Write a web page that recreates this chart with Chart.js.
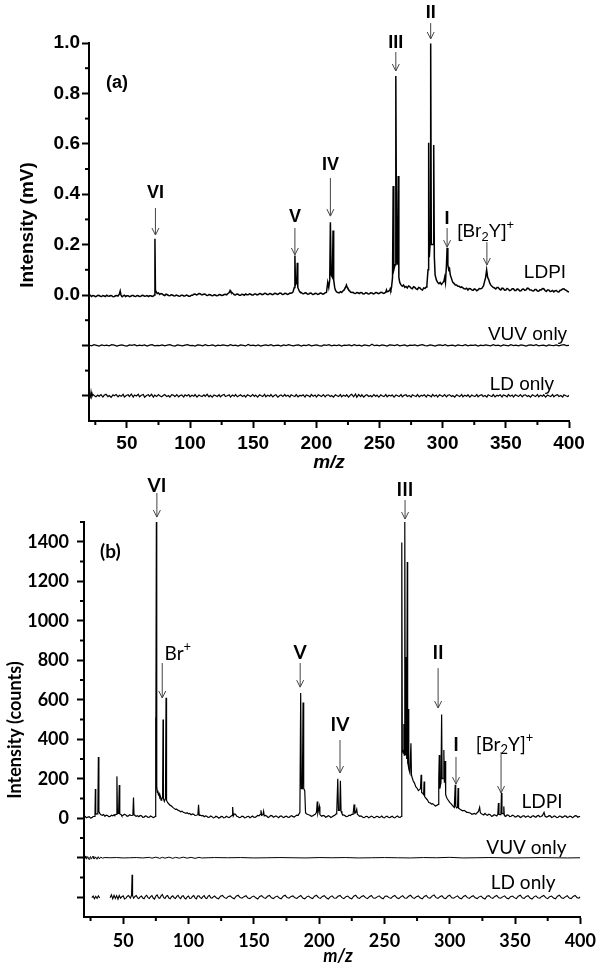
<!DOCTYPE html>
<html><head><meta charset="utf-8">
<script src="https://cdn.jsdelivr.net/npm/chart.js@4.4.1/dist/chart.umd.min.js"></script>
<style>
html,body{margin:0;padding:0;background:#fff;width:602px;height:975px;overflow:hidden}
.wrap{position:absolute;left:0;width:602px}
#wa{top:0;height:478px}#wb{top:478px;height:497px}
canvas{display:block}
</style></head><body>
<div class="wrap" id="wa"><canvas id="ca" width="602" height="478"></canvas></div>
<div class="wrap" id="wb"><canvas id="cb" width="602" height="497"></canvas></div>
<script>
// ---------- tick values ----------
const mzTicks = [50,100,150,200,250,300,350,400];
const mzMinor = [25,75,125,175,225,275,325,375];
const yTicksA = [-0.4,-0.2,0,0.2,0.4,0.6,0.8,1.0];
const yMinorA = [-0.3,-0.1,0.1,0.3,0.5,0.7,0.9];
const yTicksB = [-400,-200,0,200,400,600,800,1000,1200,1400];
const yMinorB = [-300,-100,100,300,500,700,900,1100,1300,1500];

// ---------- panel (a): intensity in mV, [m/z, value] ----------
const ldpiA = [[20,-0.004],[21,-0.001],[22,-0.006],[23,-0.002],[24,-0.003],[25,-0.007],[26,-0.005],[27,-0.001],[28,-0.002],[29,-0.005],[30,-0.006],[31,-0.002],[32,-0.004],[33,-0.006],[34,-0.001],[35,-0.004],[36,-0.005],[37,-0.002],[38,-0.003],[39,-0.007],[40,-0.006],[41,-0.003],[42,-0.002],[43,-0.004],[44,0.003],[44.7,0.016],[45.4,-0.002],[46,-0.005],[47,-0.004],[48,-0.001],[49,-0.006],[50,-0.003],[51,-0.003],[52,-0.007],[53,-0.005],[54,-0.002],[55,-0.002],[56,-0.005],[57,-0.006],[58,-0.002],[59,-0.003],[60,-0.006],[61,-0.005],[62,-0.001],[63,-0.002],[64,-0.005],[65,-0.004],[66,-0.002],[67,-0.006],[68,-0.003],[69,-0.003],[70,-0.006],[71,-0.004],[71.8,0.0],[72.2,0.223],[72.6,0.02],[73.2,0.012],[74,0.006],[75,0.008],[76,0.002],[77,0.006],[78,0.004],[79,0.0],[80,-0.002],[81,0.003],[82,0.001],[83,-0.002],[84,-0.003],[85,0.001],[86,0.0],[87,-0.003],[88,-0.004],[89,0.0],[90,-0.002],[91,-0.004],[92,-0.005],[93,-0.001],[94,-0.001],[95,-0.004],[96,-0.004],[97,0.0],[98,-0.002],[99,-0.005],[100,-0.005],[101,-0.001],[102,-0.001],[103,0.003],[104,0.004],[105,0.0],[106,0.002],[107,0.006],[108,0.005],[109,0.001],[110,0.001],[111,0.004],[112,0.003],[113,-0.001],[114,-0.002],[115,0.002],[116,0.001],[117,-0.002],[118,-0.003],[119,0.001],[120,0.0],[121,-0.003],[122,-0.002],[123,0.002],[124,0.001],[125,-0.002],[126,-0.001],[127,0.002],[128,0.003],[129,0.001],[130,0.006],[131,0.01],[131.7,0.018],[132.3,0.012],[133,0.01],[134,0.006],[134.5,0.004],[135,0.001],[136,0.0],[137,0.004],[138,0.003],[139,-0.001],[140,-0.001],[141,0.003],[142,0.002],[143,-0.001],[144,0.004],[145,0.001],[146,0.001],[147,0.005],[148,0.003],[149,0.0],[150,0.0],[151,0.004],[152,0.004],[153,0.0],[154,0.002],[155,0.006],[156,0.005],[157,0.001],[158,0.003],[159,0.007],[160,0.006],[161,0.002],[162,0.002],[163,0.006],[164,0.005],[165,0.001],[166,0.003],[167,0.007],[168,0.006],[169,0.002],[170,0.004],[171,0.008],[172,0.007],[173,0.002],[174,0.003],[175,0.007],[176,0.006],[177,0.002],[178,0.004],[179,0.008],[180,0.007],[181,0.009],[181.5,0.012],[182.5,0.03],[183.0,0.157],[183.5,0.04],[184.5,0.05],[184.9,0.128],[185.3,0.03],[186.5,0.015],[187,0.012],[188,0.01],[189,0.006],[190,0.005],[191,0.009],[192,0.008],[193,0.003],[194,0.004],[195,0.008],[196,0.007],[197,0.002],[198,0.003],[199,0.007],[200,0.006],[201,0.002],[202,0.004],[203,0.008],[204,0.007],[205,0.003],[206,0.005],[207,0.009],[208,0.01],[209,0.05],[209.8,0.03],[210.6,0.06],[211.1,0.289],[211.7,0.08],[212.7,0.07],[213.2,0.256],[213.7,0.06],[214.5,0.03],[215,0.02],[216,0.012],[217,0.01],[218,0.008],[219,0.013],[220,0.01],[221,0.016],[222,0.02],[223,0.03],[223.8,0.04],[224.4,0.03],[225,0.025],[226,0.018],[226.5,0.015],[227,0.012],[228,0.01],[229,0.011],[230,0.007],[231,0.006],[232,0.01],[233,0.009],[234,0.006],[235,0.01],[236,0.009],[237,0.004],[238,0.005],[239,0.009],[240,0.008],[241,0.004],[242,0.005],[243,0.009],[244,0.008],[245,0.004],[246,0.006],[247,0.01],[248,0.009],[249,0.005],[250,0.007],[251,0.011],[252,0.01],[253,0.006],[254,0.008],[255,0.012],[255.5,0.02],[256,0.013],[257,0.015],[258,0.018],[258.5,0.025],[259,0.02],[259.5,0.03],[260.3,0.07],[260.8,0.433],[261.3,0.1],[262.3,0.12],[262.9,0.869],[263.5,0.15],[264.3,0.12],[264.8,0.472],[265.3,0.07],[266,0.05],[267,0.04],[268,0.035],[269,0.04],[270,0.03],[271,0.034],[272,0.028],[273,0.036],[274,0.033],[275,0.027],[276,0.025],[277,0.033],[278,0.03],[279,0.024],[280,0.022],[281,0.03],[282,0.028],[283,0.022],[284,0.02],[285,0.028],[286,0.026],[287,0.032],[287.5,0.04],[288.4,0.1],[288.9,0.604],[289.4,0.15],[290.0,0.2],[290.5,0.998],[291.0,0.2],[292.4,0.2],[292.9,0.595],[293.4,0.15],[294,0.08],[295,0.06],[296,0.05],[297,0.045],[298,0.05],[299,0.042],[300,0.048],[301,0.055],[301.6,0.07],[302.2,0.05],[303.0,0.12],[303.5,0.187],[304.1,0.12],[304.8,0.1],[305.4,0.105],[306,0.08],[307,0.065],[308,0.05],[309,0.046],[310,0.04],[311,0.04],[312,0.035],[313,0.035],[314,0.03],[315,0.032],[316,0.028],[317,0.025],[318,0.024],[319,0.027],[320,0.02],[321,0.026],[322,0.025],[323,0.02],[324,0.018],[325,0.024],[326,0.022],[327,0.017],[328,0.02],[329,0.026],[330,0.025],[331,0.026],[331.5,0.03],[332.3,0.036],[333,0.05],[334,0.07],[334.8,0.1],[335.6,0.07],[336.5,0.06],[337.2,0.048],[338,0.04],[339,0.035],[340,0.03],[341,0.028],[342,0.024],[343,0.03],[344,0.03],[345,0.023],[346,0.02],[347,0.027],[348,0.026],[349,0.019],[350,0.02],[351,0.026],[352,0.023],[353,0.017],[354,0.019],[355,0.025],[356,0.025],[357,0.018],[358,0.018],[359,0.024],[360,0.022],[361,0.016],[362,0.017],[363,0.023],[364,0.024],[365,0.018],[366,0.02],[367,0.027],[368,0.026],[369,0.02],[370,0.02],[371,0.017],[372,0.016],[373,0.022],[374,0.022],[375,0.016],[376,0.015],[377,0.021],[378,0.02],[379,0.026],[380,0.025],[381,0.018],[382,0.014],[383,0.02],[384,0.02],[385,0.014],[386,0.015],[387,0.018],[388,0.012],[389,0.017],[390,0.018],[391,0.013],[392,0.012],[393,0.019],[394,0.02],[395,0.024],[396,0.025],[397,0.02],[398,0.018],[399,0.014],[400,0.012]];
const vuvA = [[20,0.001],[22,-0.002],[24,0.003],[26,0.0],[28,-0.003],[30,0.002],[32,-0.001],[34,0.001],[36,-0.002],[38,0.003],[40,0.001],[42,-0.003],[44,0.0],[46,0.002],[48,-0.001],[50,-0.003],[52,0.002],[54,0.0],[56,0.003],[58,-0.002],[60,0.001],[62,-0.001],[64,0.002],[66,-0.003],[68,0.001],[70,0.003],[72,-0.002],[74,0.0],[76,-0.001],[78,0.002],[80,-0.002],[82,0.001],[84,0.003],[86,-0.001],[88,-0.003],[90,0.002],[92,0.0],[94,-0.002],[96,0.001],[98,0.003],[100,-0.001],[102,0.0],[104,-0.003],[106,0.002],[108,0.001],[110,-0.002],[112,0.003],[114,-0.001],[116,0.0],[118,0.002],[120,-0.003],[122,0.001],[124,-0.001],[126,0.002],[128,0.0],[130,-0.002],[132,0.003],[134,-0.001],[136,0.001],[138,-0.003],[140,0.002],[142,0.0],[144,-0.002],[146,0.004],[148,-0.001],[150,0.001],[152,-0.002],[154,0.002],[156,-0.003],[158,0.0],[160,0.002],[162,-0.001],[164,0.003],[166,-0.002],[168,0.0],[170,0.001],[172,-0.003],[174,0.002],[176,-0.001],[178,0.003],[180,0.0],[182,-0.002],[184,0.001],[186,0.002],[188,-0.003],[190,0.001],[192,-0.001],[194,0.003],[196,-0.002],[198,0.0],[200,0.002],[202,-0.001],[204,-0.003],[206,0.002],[208,0.0],[210,0.003],[212,-0.002],[214,0.001],[216,-0.001],[218,0.002],[220,-0.003],[222,0.001],[224,0.0],[226,0.002],[228,-0.002],[230,0.003],[232,-0.001],[234,0.001],[236,-0.003],[238,0.002],[240,0.0],[242,-0.002],[244,0.005],[246,-0.001],[248,0.001],[250,-0.002],[252,0.002],[254,0.0],[256,-0.003],[258,0.002],[260,0.001],[262,-0.001],[264,0.003],[266,-0.002],[268,0.0],[270,0.002],[272,-0.003],[274,0.001],[276,0.0],[278,0.002],[280,-0.002],[282,0.001],[284,0.003],[286,-0.001],[288,-0.002],[290,0.002],[292,0.0],[294,-0.003],[296,0.001],[298,0.002],[300,-0.001],[302,0.003],[304,-0.002],[306,0.0],[308,0.001],[310,-0.003],[312,0.002],[314,0.0],[316,-0.001],[318,0.003],[320,-0.002],[322,0.001],[324,0.0],[326,0.002],[328,-0.003],[330,0.001],[332,-0.001],[334,0.002],[336,0.0],[338,-0.002],[340,0.003],[342,-0.001],[344,0.001],[346,-0.003],[348,0.002],[350,0.0],[352,-0.002],[354,0.003],[356,-0.001],[358,0.001],[360,-0.002],[362,0.002],[364,0.0],[366,-0.003],[368,0.001],[370,0.002],[372,-0.001],[374,0.003],[376,-0.002],[378,0.0],[380,0.001],[382,-0.003],[384,0.002],[386,0.0],[388,-0.001],[390,0.002],[392,-0.002],[394,0.001],[396,0.003],[398,-0.001],[400,0.0]];
const ldA = [[20,0.004],[21,-0.006],[21.6,0.016],[22.2,-0.004],[23,0.006],[24,0.001],[25.5,-0.004],[27,0.003],[28,-0.002],[29.5,0.005],[31,-0.005],[32,0.002],[33.5,0.006],[35,-0.003],[36,0.001],[37.5,-0.006],[39,0.004],[40,0.0],[41.5,0.005],[43,-0.004],[44,0.002],[45.5,-0.002],[47,0.006],[48,-0.005],[49.5,0.001],[51,0.004],[52,-0.003],[53.5,0.007],[55,-0.005],[56,0.003],[57.5,-0.001],[59,0.006],[60,-0.004],[61.5,0.002],[63,0.005],[64,-0.006],[65.5,0.001],[67,0.004],[68,-0.002],[69.5,0.006],[71,-0.005],[72,0.003],[73.5,-0.003],[75,0.005],[76,0.0],[77.5,-0.004],[79,0.002],[80,0.005],[81.5,-0.003],[83,0.001],[84,-0.005],[85.5,0.004],[87,0.002],[88,-0.003],[89.5,0.005],[91,-0.004],[92,0.001],[93.5,0.003],[95,-0.005],[96,0.004],[97.5,-0.001],[99,0.005],[100,-0.004],[101.5,0.002],[103,-0.002],[104,0.005],[105.5,-0.005],[107,0.003],[108,0.0],[109.5,-0.003],[111,0.004],[112,-0.002],[113.5,0.006],[115,-0.004],[116,0.002],[117.5,-0.005],[119,0.003],[120,0.001],[121.5,-0.003],[123,0.004],[124,-0.004],[125.5,0.002],[127,0.005],[128,-0.003],[129.5,0.0],[131,0.004],[132,-0.005],[133.5,0.003],[135,-0.002],[136,0.005],[137.5,-0.004],[139,0.001],[140,0.004],[141.5,-0.003],[143,0.002],[144,-0.005],[145.5,0.004],[147,0.0],[148,-0.003],[149.5,0.005],[151,-0.002],[152,0.003],[153.5,-0.005],[155,0.004],[156,0.001],[157.5,-0.003],[159,0.006],[160,-0.004],[161.5,0.002],[163,-0.002],[164,0.005],[165.5,-0.004],[167,0.002],[168,0.004],[169.5,-0.005],[171,0.001],[172,0.003],[173.5,-0.003],[175,0.005],[176,-0.002],[177.5,0.002],[179,-0.005],[180,0.004],[181.5,0.0],[183,-0.003],[184,0.005],[185.5,-0.004],[187,0.002],[188,-0.001],[189.5,0.004],[191,-0.005],[192,0.003],[193.5,0.001],[195,-0.004],[196,0.005],[197.5,-0.002],[199,0.003],[200,-0.005],[201.5,0.004],[203,0.0],[204,-0.003],[205.5,0.005],[207,-0.004],[208,0.002],[209.5,0.004],[211,-0.003],[212,0.001],[213.5,-0.005],[215,0.004],[216,0.001],[217.5,-0.003],[219,0.005],[220,-0.004],[221.5,0.002],[223,-0.002],[224,0.004],[225.5,-0.005],[227,0.003],[228,0.006],[229.5,-0.004],[231,0.007],[232,-0.006],[233.5,0.005],[235,-0.003],[236,0.004],[237.5,-0.005],[239,0.002],[240,0.004],[241.5,-0.003],[243,0.001],[244,-0.004],[245.5,0.005],[247,-0.002],[248,0.003],[249.5,-0.005],[251,0.004],[252,0.0],[253.5,-0.003],[255,0.005],[256,-0.004],[257.5,0.002],[259,-0.001],[260,0.004],[261.5,-0.005],[263,0.003],[264,0.001],[265.5,-0.003],[267,0.005],[268,-0.004],[269.5,0.002],[271,0.004],[272,-0.003],[273.5,0.001],[275,-0.005],[276,0.004],[277.5,0.0],[279,-0.003],[280,0.005],[281.5,-0.004],[283,0.002],[284,-0.001],[285.5,0.004],[287,-0.005],[288,0.003],[289.5,0.001],[291,-0.004],[292,0.005],[293.5,-0.002],[295,0.003],[296,-0.005],[297.5,0.004],[299,0.0],[300,-0.003],[301.5,0.005],[303,-0.004],[304,0.002],[305.5,0.004],[307,-0.003],[308,0.001],[309.5,-0.005],[311,0.004],[312,0.001],[313.5,-0.003],[315,0.005],[316,-0.004],[317.5,0.002],[319,-0.002],[320,0.004],[321.5,-0.005],[323,0.003],[324,0.0],[325.5,-0.003],[327,0.005],[328,-0.004],[329.5,0.002],[331,0.004],[332,-0.003],[333.5,0.001],[335,-0.005],[336,0.004],[337.5,0.0],[339,-0.003],[340,0.005],[341.5,-0.004],[343,0.002],[344,-0.001],[345.5,0.004],[347,-0.005],[348,0.003],[349.5,0.001],[351,-0.004],[352,0.005],[353.5,-0.002],[355,0.003],[356,-0.005],[357.5,0.004],[359,0.0],[360,-0.003],[361.5,0.005],[363,-0.004],[364,0.002],[365.5,0.004],[367,-0.003],[368,0.001],[369.5,-0.005],[371,0.004],[372,0.001],[373.5,-0.003],[375,0.005],[376,-0.004],[377.5,0.002],[379,-0.002],[380,0.004],[381.5,-0.005],[383,0.003],[384,0.0],[385.5,-0.003],[387,0.005],[388,-0.004],[389.5,0.002],[391,0.004],[392,-0.003],[393.5,0.001],[395,-0.005],[396,0.004],[397.5,0.0],[399,-0.003],[400,0.002]];

// ---------- panel (b): intensity in counts, [m/z, value] ----------
const ldpiB = [[20,5],[21,9],[22,2],[23,6],[24,8],[25,1],[26,3],[27,9],[28,10],[28.4,15],[28.7,148],[29.0,20],[30,22],[30.6,25],[31.0,310],[31.4,35],[32,25],[33,18],[34,15],[35,19],[36,10],[37,16],[38,14],[39,8],[40,9],[41,15],[42,12],[43,18],[43.5,15],[44.6,20],[45.2,212],[45.6,25],[46.5,25],[47.0,168],[47.4,22],[48.5,18],[49,12],[50,15],[51,20],[52,17],[53,10],[54,12],[55,18],[56,14],[57.4,15],[57.9,105],[58.3,18],[59,14],[60,10],[61,13],[62,8],[63,14],[64,12],[65,5],[66,6],[67,12],[68,10],[69,4],[70,5],[71,11],[72,8],[73,3],[74,6],[74.5,10],[74.8,510],[75.0,140],[75.4,1500],[75.7,160],[76.2,130],[76.5,140],[77,120],[77.5,125],[78,105],[78.5,110],[79,92],[79.5,95],[80.2,110],[80.5,500],[80.8,100],[81.5,85],[82.4,100],[82.8,610],[83.2,90],[84,80],[85,72],[86,65],[87,62],[88,55],[89,50],[90,45],[91,46],[92,40],[93,38],[94,33],[95,36],[96,30],[97,28],[98,25],[99,28],[100,22],[101,24],[102,18],[103,22],[104,20],[105,14],[106,15],[107.2,18],[107.7,68],[108.2,15],[109,16],[110,12],[111,14],[112,8],[113,12],[114,10],[115,4],[116,5],[117,11],[118,8],[119,2],[120,4],[121,10],[122,7],[123,1],[124,3],[125,9],[126,8],[127,2],[128,4],[129,10],[130,6],[131,3],[132,8],[133.4,15],[133.8,57],[134.3,12],[135,22],[136,20],[137,10],[138,8],[139,3],[140,5],[141,11],[142,9],[143,2],[144,4],[145,9],[146,10],[147,3],[148,6],[149,11],[150,5],[151,4],[152,9],[153,14],[154,12],[155,20],[155.5,40],[156,15],[157,18],[157.5,35],[158,12],[159,14],[160,10],[161,4],[162,8],[163,14],[164,12],[165,5],[166,9],[167,12],[168,7],[169,3],[170,10],[171,12],[172,6],[173,3],[174,9],[175,11],[176,5],[177,4],[178,10],[179,13],[180,8],[181,6],[182,12],[183,16],[184,15],[185.3,30],[185.9,634],[186.4,150],[187.2,150],[187.7,586],[188.2,150],[189,140],[189.6,30],[190,24],[191,20],[192,18],[193,15],[194,10],[195,12],[196,16],[197,20],[198,30],[198.6,85],[199,25],[200.2,60],[200.6,20],[201,16],[202,10],[203,14],[204,12],[205,5],[206,8],[207,13],[208,10],[209,4],[210,8],[211,12],[212,15],[213,22],[213.5,30],[214.3,200],[214.8,40],[215.8,40],[216.3,190],[216.8,35],[217.5,24],[218,18],[219,16],[220,12],[221,8],[222,10],[223,16],[224,14],[225,20],[226,20],[226.8,70],[227.3,25],[228,28],[228.8,45],[229.3,20],[230,16],[231,10],[232,12],[233,8],[234,3],[235,5],[236,10],[237,9],[238,2],[239,6],[240,11],[241,8],[242,2],[243,5],[244,10],[245,9],[246,3],[247,6],[248,11],[249,4],[250,2],[251,8],[252,10],[253,5],[254,3],[255,7],[256,10],[257,4],[258,2],[259,8],[260,11],[261,5],[262,4],[263.0,10],[263.2,300],[263.4,1396],[263.7,350],[264.5,330],[264.9,477],[265.2,320],[265.5,320],[265.7,1500],[266.0,330],[266.3,320],[266.6,816],[266.9,300],[267.2,300],[267.5,1297],[267.8,280],[268.2,270],[268.5,553],[268.8,250],[269.5,230],[270.3,380],[270.7,220],[271.3,205],[272,190],[273,178],[274,160],[275,152],[276,140],[277,146],[277.6,150],[278.1,220],[278.5,130],[279,128],[280,120],[280.4,186],[280.8,110],[281.4,104],[282,100],[283,92],[284,80],[285,78],[286,72],[287,74],[288,68],[289,62],[290,65],[291.2,70],[291.6,200],[292.0,320],[292.4,150],[293.3,180],[293.8,525],[294.2,200],[295,200],[295.5,345],[295.9,180],[296.5,290],[296.9,120],[297.5,108],[298,100],[299,90],[300,80],[301,74],[302,65],[303,58],[303.5,55],[304.2,170],[304.6,60],[305.3,52],[306,55],[306.4,153],[306.8,50],[307.4,48],[308,45],[309,41],[310,38],[311,40],[312,35],[313,30],[314,30],[315,28],[316,25],[317,20],[318,22],[319,24],[320,20],[321,28],[322,35],[322.9,55],[323.4,30],[324,24],[325,20],[326,17],[327,25],[328,18],[329,15],[330,21],[331,18],[332,10],[333,12],[334,18],[335,15],[336,12],[336.8,20],[337.3,77],[337.7,20],[338.5,18],[339.2,25],[339.6,128],[340,25],[341,22],[341.4,60],[341.8,15],[342.5,10],[343,12],[344,17],[345,15],[346,8],[347,10],[348,15],[349,13],[350,6],[351,8],[352,13],[353,11],[354,4],[355,7],[356,12],[357,12],[358,5],[359,9],[360,12],[361,6],[362,4],[363,10],[364,13],[365,8],[366,5],[367,12],[368,14],[369,7],[370,9],[371,14],[372.2,30],[373,10],[374,6],[375,8],[376,13],[377,12],[378,4],[379,6],[380,12],[381,9],[382,3],[383,5],[384,11],[385,10],[386,4],[387,7],[388,12],[389,11],[390,4],[391,6],[392,11],[393,9],[394,3],[395,7],[396,13],[397,12],[398,5],[399,8],[400,9]];
const vuvB = [[20,-4],[20.5,5],[21,8],[21.5,-3],[22,-6],[22.5,4],[23,5],[23.5,-7],[24,-8],[24.5,3],[25,6],[25.5,-5],[26,-3],[26.5,6],[27,7],[27.5,-4],[28,-5],[28.5,2],[29,4],[29.5,-6],[30,-6],[30.5,3],[31,5],[31.5,-3],[32,-4],[32.5,2],[33,3],[34,-2],[36,1],[40,0],[45,1],[50,-1],[55,0],[60,1],[65,-1],[70,2],[72,-2],[75,3],[78,-3],[80,2],[82,-2],[85,3],[88,-3],[90,2],[93,-2],[96,3],[99,-2],[102,2],[105,-3],[108,2],[110,-1],[115,0],[120,1],[130,0],[140,1],[150,-1],[160,0],[170,1],[180,0],[190,-1],[200,1],[210,0],[220,1],[230,-1],[240,0],[250,1],[260,0],[270,-1],[280,1],[290,0],[300,2],[310,-1],[320,0],[330,1],[340,0],[350,-1],[360,0],[370,1],[380,0],[390,-1],[400,0]];
const ldB = [[26,-2],[27,6],[28,-8],[29,5],[30,-6],[31,7],[32,-4],[33,null],[40,-3],[41,12],[42,-8],[43,10],[44,-6],[45,8],[46,-10],[47,9],[48,-5],[49,3],[50,7],[51,-9],[52,-6],[53,4],[54,9],[55.5,-4],[56.4,10],[56.8,114],[57.2,8],[58,-5],[59,4],[60,9],[61,-3],[62,-7],[63,2],[64,6],[65,-4],[66,-8],[67,5],[68,10],[69,-2],[70,-6],[71,3],[72,8],[73,-4],[74,-9],[75,6],[76,12],[77,-3],[78,-5],[79,7],[80,14],[81,-2],[82,-6],[83,5],[84,9],[85,-4],[86,-8],[87,3],[88,7],[89,-3],[90,-6],[91,4],[92,10],[93,-2],[94,-7],[95,5],[96,8],[97,-4],[98,-9],[99,2],[100,6],[101,-6],[102,-5],[103,4],[104,9],[105,-3],[106,-8],[107,6],[108,7],[109,-2],[110,-6],[111,3],[112,8],[113,-4],[114,-7],[115,5],[116,10],[117,-3],[118,-5],[119,2],[120,6],[121.5,-4],[123,-8],[124.5,5],[126,9],[127.5,-2],[129,-6],[130.5,4],[132,7],[133.5,-3],[135,-8],[136.5,5],[138,10],[139.5,-2],[141,-5],[142.5,3],[144,8],[145.5,-4],[147,-7],[148.5,2],[150,6],[151.5,-3],[153,-9],[154.5,4],[156,8],[157.5,-2],[159,-6],[160.5,5],[162,9],[163.5,-3],[165,-7],[166.5,2],[168,6],[169.5,-4],[171,-8],[172.5,5],[174,10],[175.5,-2],[177,-5],[178.5,4],[180,7],[181.5,-3],[183,-6],[184.5,3],[186,9],[187.5,-4],[189,-8],[190.5,2],[192,6],[193.5,-3],[195,-7],[196.5,5],[198,10],[199.5,-2],[201,-6],[202.5,4],[204,8],[205.5,-3],[207,-9],[208.5,2],[210,7],[211.5,-4],[213,-5],[214.5,5],[216,9],[217.5,-2],[219,-7],[220.5,3],[222,6],[223.5,-4],[225,-8],[226.5,5],[228,10],[229.5,-3],[231,-6],[232.5,4],[234,8],[235.5,-2],[237,-7],[238.5,3],[240,9],[241.5,-4],[243,-5],[244.5,2],[246,7],[247.5,-3],[249,-8],[250.5,5],[252,6],[253.5,-2],[255,-6],[256.5,4],[258,9],[259.5,-3],[261,-7],[262.5,2],[264,8],[265.5,-4],[267,-5],[268.5,5],[270,10],[271.5,-2],[273,-6],[274.5,3],[276,7],[277.5,-4],[279,-8],[280.5,4],[282,9],[283.5,-3],[285,-5],[286.5,6],[288,12],[289.5,-2],[291,-6],[292.5,3],[294,8],[295.5,-4],[297,-7],[298.5,5],[300,10],[301.5,-3],[303,-5],[304.5,2],[306,7],[307.5,-4],[309,-8],[310.5,4],[312,9],[313.5,-2],[315,-6],[316.5,3],[318,8],[319.5,-3],[321,-7],[322.5,2],[324,6],[325.5,-4],[327,-9],[328.5,5],[330,8],[331.5,-2],[333,-6],[334.5,4],[336,9],[337.5,-3],[339,-5],[340.5,2],[342,7],[343.5,-4],[345,-8],[346.5,3],[348,6],[349.5,-2],[351,-7],[352.5,5],[354,10],[355.5,-3],[357,-6],[358.5,4],[360,8],[361.5,-4],[363,-9],[364.5,2],[366,7],[367.5,-3],[369,-5],[370.5,4],[372,9],[373.5,-2],[375,-7],[376.5,3],[378,6],[379.5,-4],[381,-8],[382.5,5],[384,10],[385.5,-3],[387,-6],[388.5,2],[390,8],[391.5,-4],[393,-7],[394.5,4],[396,9],[397.5,-2],[399,-5],[400,3]];

// ---------- drawing helpers ----------
function richText(ctx, segs, x, y, align, size, family, weight) {
  const parts = segs.map(s => {
    const sz = (s.sub || s.sup) ? size * 0.68 : size;
    ctx.font = (weight||'normal') + ' ' + sz + 'px ' + family;
    return {t: s.t, sz, w: ctx.measureText(s.t).width, dy: s.sub ? size*0.28 : (s.sup ? -size*0.35 : 0)};
  });
  const total = parts.reduce((a,p)=>a+p.w,0);
  let cx = align === 'right' ? x - total : (align === 'center' ? x - total/2 : x);
  ctx.textAlign = 'left'; ctx.textBaseline = 'middle';
  parts.forEach(p => { ctx.font = (weight||'normal') + ' ' + p.sz + 'px ' + family; ctx.fillText(p.t, cx, y + p.dy); cx += p.w; });
}
function arrow(ctx, x, y1, y2) {
  ctx.save(); ctx.strokeStyle = '#444'; ctx.lineWidth = 1;
  ctx.beginPath(); ctx.moveTo(x, y1); ctx.lineTo(x, y2); ctx.stroke();
  ctx.beginPath(); ctx.moveTo(x-3.5, y2-7); ctx.lineTo(x, y2); ctx.lineTo(x+3.5, y2-7); ctx.stroke();
  ctx.restore();
}
function makePlugin(o) {
  return {
    id: 'deco' + o.key,
    afterDraw(chart) {
      const ctx = chart.ctx, xs = chart.scales.x, ys = chart.scales.y;
      ctx.save();
      ctx.fillStyle = '#000'; ctx.strokeStyle = '#000'; ctx.lineWidth = 2;
      o.yMinor.forEach(v => { const p = ys.getPixelForValue(v); ctx.beginPath(); ctx.moveTo(ys.right - 4, p); ctx.lineTo(ys.right, p); ctx.stroke(); });
      mzMinor.forEach(v => { const p = xs.getPixelForValue(v); ctx.beginPath(); ctx.moveTo(p, xs.top); ctx.lineTo(p, xs.top + 4); ctx.stroke(); });
      o.ann.forEach(a => {
        const x = xs.getPixelForValue(a.mz);
        if (a.arrow) arrow(ctx, xs.getPixelForValue(a.arrowMz ?? a.mz), ys.getPixelForValue(a.arrow[0]), ys.getPixelForValue(a.arrow[1]));
        ctx.fillStyle = '#000';
        richText(ctx, a.segs, x, ys.getPixelForValue(a.y), a.align || 'center', a.bold ? o.boldSize : o.normSize, o.family, a.bold ? 'bold' : 'normal');
      });
      ctx.font = 'bold ' + o.titleSize + 'px ' + o.family;
      ctx.textAlign = 'center'; ctx.textBaseline = 'middle';
      ctx.save(); ctx.translate(o.yTitle[0], o.yTitle[1]); ctx.rotate(-Math.PI/2); ctx.fillText(o.yTitleText, 0, 0); ctx.restore();
      ctx.font = 'italic bold ' + o.titleSize + 'px ' + o.family;
      ctx.fillText('m/z', o.xTitle[0], o.xTitle[1]);
      ctx.restore();
    }
  };
}
function makeChart(id, o) {
  const ds = o.series.map(s => ({
    data: s.data.map(p => ({x: p[0], y: p[1] === null ? null : p[1] + s.offset})),
    borderColor: '#000', borderWidth: s.w, pointRadius: 0, tension: 0, spanGaps: false, fill: false
  }));
  const font = {family: o.family, size: o.tickSize, weight: 'bold'};
  return new Chart(document.getElementById(id), {
    type: 'line',
    data: {datasets: ds},
    options: {
      responsive: false, animation: false, events: [],
      layout: {padding: o.pad},
      plugins: {legend: {display: false}, tooltip: {enabled: false}},
      scales: {
        x: {type: 'linear', min: 20, max: 400,
          afterBuildTicks: s => { s.ticks = mzTicks.map(v => ({value: v})); },
          afterFit: s => { s.height = o.xh; },
          border: {display: true, color: '#000', width: 2},
          grid: {drawOnChartArea: false, drawTicks: true, tickLength: 7, tickWidth: 2, tickColor: '#000'},
          ticks: {autoSkip: false, maxRotation: 0, color: '#000', font, padding: o.xpad, callback: v => String(v)}},
        y: {type: 'linear', min: o.ymin, max: o.ymax,
          afterBuildTicks: s => { s.ticks = o.yTicks.map(v => ({value: v})); },
          afterFit: s => { s.width = o.yw; },
          border: {display: true, color: '#000', width: 2},
          grid: {drawOnChartArea: false, drawTicks: true, tickLength: 7, tickWidth: 2, tickColor: '#000'},
          ticks: {autoSkip: false, color: '#000', font, padding: o.ypad, callback: o.yLabel}}
      }
    },
    plugins: [makePlugin(o)]
  });
}

const famA = '"Liberation Sans", Arial, Helvetica, sans-serif';
const famB = 'Lato, "Open Sans", sans-serif';

makeChart('ca', {
  key: 'a', family: famA, tickSize: 19, boldSize: 18, normSize: 19, titleSize: 19,
  pad: {left: 0, right: 33, top: 43, bottom: 0}, yw: 89, xh: 57, xpad: 4, ypad: 2,
  ymin: -0.5, ymax: 1.0, yTicks: yTicksA, yMinor: yMinorA,
  yLabel: v => v >= 0 ? v.toFixed(1) : '',
  yTitle: [28, 225], yTitleText: 'Intensity (mV)', xTitle: [329, 463],
  series: [{data: ldpiA, offset: 0, w: 1.5}, {data: vuvA, offset: -0.2, w: 1.2}, {data: ldA, offset: -0.4, w: 1.2}],
  ann: [
    {segs: [{t: '(a)'}], mz: 33.5, y: 0.841, bold: true, align: 'left'},
    {segs: [{t: 'VI'}], mz: 72.6, y: 0.405, bold: true, arrow: [0.345, 0.238]},
    {segs: [{t: 'V'}], mz: 183.0, y: 0.308, bold: true, arrow: [0.266, 0.159]},
    {segs: [{t: 'IV'}], mz: 211.1, y: 0.516, bold: true, arrow: [0.464, 0.313]},
    {segs: [{t: 'III'}], mz: 262.9, y: 1.001, bold: true, arrow: [0.964, 0.889]},
    {segs: [{t: 'II'}], mz: 290.5, y: 1.118, bold: true, arrow: [1.079, 1.016]},
    {segs: [{t: 'I'}], mz: 303.5, y: 0.302, bold: true, arrow: [0.266, 0.190]},
    {segs: [{t: '[Br'}, {t: '2', sub: true}, {t: 'Y]'}, {t: '+', sup: true}], mz: 334.0, y: 0.251, arrowMz: 335.0, arrow: [0.210, 0.119]},
    {segs: [{t: 'LDPI'}], mz: 397.7, y: 0.087, align: 'right'},
    {segs: [{t: 'VUV only'}], mz: 398.5, y: -0.159, align: 'right'},
    {segs: [{t: 'LD only'}], mz: 388.2, y: -0.357, align: 'right'}
  ]
});

makeChart('cb', {
  key: 'b', family: famB, tickSize: 18, boldSize: 19, normSize: 19, titleSize: 18,
  pad: {left: 0, right: 19, top: 44, bottom: 0}, yw: 84, xh: 58, xpad: 6, ypad: 8,
  ymin: -500, ymax: 1500, yTicks: yTicksB, yMinor: yMinorB,
  yLabel: v => v >= 0 ? String(v) : '',
  yTitle: [15, 252], yTitleText: 'Intensity (counts)', xTitle: [338, 478],
  series: [{data: ldpiB, offset: 0, w: 1.2}, {data: vuvB, offset: -200, w: 1}, {data: ldB, offset: -400, w: 1.1}],
  ann: [
    {segs: [{t: '(b)'}], mz: 32.2, y: 1348, bold: true, align: 'left'},
    {segs: [{t: 'VI'}], mz: 75.8, y: 1682, bold: true, arrow: [1647, 1525]},
    {segs: [{t: 'Br'}, {t: '+', sup: true}], mz: 81.7, y: 832, align: 'left', arrowMz: 79.9, arrow: [786, 609]},
    {segs: [{t: 'V'}], mz: 185.5, y: 835, bold: true, arrow: [786, 664]},
    {segs: [{t: 'IV'}], mz: 216.0, y: 472, bold: true, arrow: [396, 229]},
    {segs: [{t: 'III'}], mz: 265.8, y: 1662, bold: true, arrow: [1611, 1515]},
    {segs: [{t: 'II'}], mz: 291.1, y: 838, bold: true, arrow: [760, 558]},
    {segs: [{t: 'I'}], mz: 304.8, y: 371, bold: true, arrow: [310, 173]},
    {segs: [{t: '[Br'}, {t: '2', sub: true}, {t: 'Y]'}, {t: '+', sup: true}], mz: 341.9, y: 371, arrowMz: 339.3, arrow: [335, 128]},
    {segs: [{t: 'LDPI'}], mz: 386.3, y: 82, align: 'right'},
    {segs: [{t: 'VUV only'}], mz: 389.4, y: -151, align: 'right'},
    {segs: [{t: 'LD only'}], mz: 381, y: -328, align: 'right'}
  ]
});
</script>
</body></html>
